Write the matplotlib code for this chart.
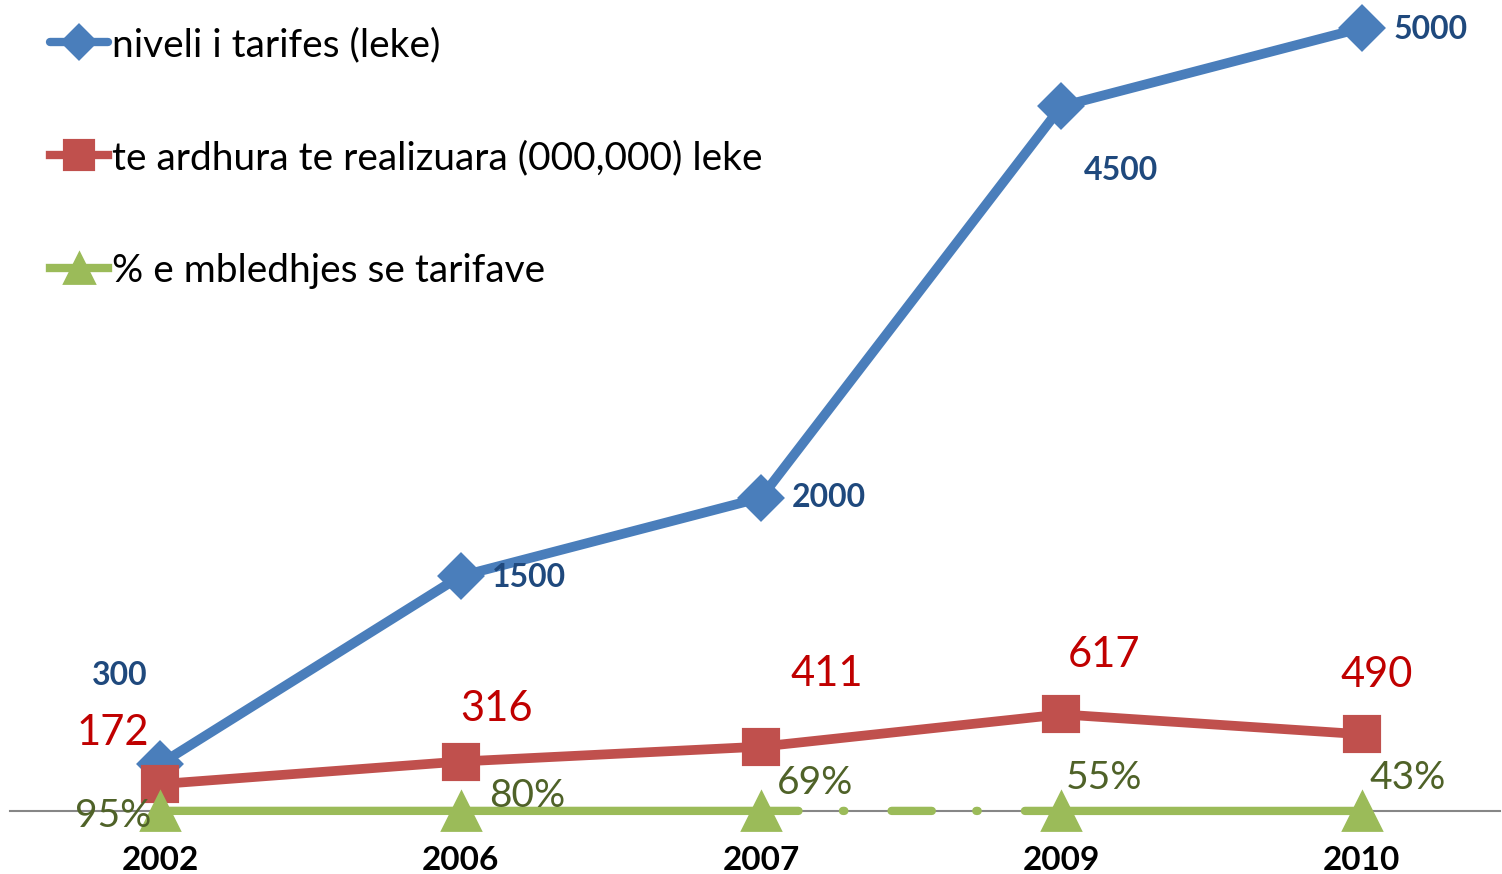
import matplotlib.pyplot as plt

# Data
years = ['2002', '2006', '2007', '2009', '2010']
tarifa = [300, 1500, 2000, 4500, 5000]           # niveli i tarifes (leke)
te_ardhura = [172, 316, 411, 617, 490]           # te ardhura te realizuara (000,000) leke
mbledhja = [0.95, 0.80, 0.69, 0.55, 0.43]        # % e mbledhjes se tarifave
mbledhja_labels = ['95%', '80%', '69%', '55%', '43%']

series_names = ['niveli i tarifes (leke)',
                'te ardhura te realizuara (000,000) leke',
                '% e mbledhjes se tarifave']

# label offsets in pixels (dx, dy) from each point
off_blue = [(-40, 89), (68, -1), (68, 0), (60, -64), (69, -2)]
off_red = [(-47, 51), (36, 53), (66, 73), (43, 59), (15, 59)]
off_green = [(-47, -5), (67, 15), (54, 28), (43, 33), (46, 33)]

plt.rcParams['font.family'] = ['Lato', 'DejaVu Sans']
plt.rcParams['lines.scale_dashes'] = False

fig = plt.figure(figsize=(15.02, 8.74), dpi=100)
ax = fig.add_axes([10 / 1502, 63 / 874, 1490 / 1502, 783 / 874])

x = list(range(len(years)))
blue, red, green = '#4A7EBB', '#C0504D', '#9BBB59'

l1, = ax.plot(x, tarifa, color=blue, lw=7, marker='D', ms=21, mec=blue, mew=3,
              solid_joinstyle='round', solid_capstyle='round', clip_on=False, zorder=3,
              label=series_names[0])
l2, = ax.plot(x, te_ardhura, color=red, lw=7, marker='s', ms=25, mec=red, mew=3,
              clip_on=False, zorder=4, label=series_names[1])

# green series: solid except the broken stretch between 2007 and 2009
ax.plot(x[:3], mbledhja[:3], color=green, lw=6, solid_capstyle='butt', clip_on=False, zorder=5)
ax.plot(x[3:], mbledhja[3:], color=green, lw=6, solid_capstyle='butt', clip_on=False, zorder=5)
ax.plot(x[2:4], mbledhja[2:4], color=green, lw=6, dash_capstyle='round', clip_on=False, zorder=5,
        dashes=(27, 32, 1, 34, 29, 32, 1, 34, 26))
l3, = ax.plot(x, mbledhja, color=green, lw=0, marker='^', ms=27, mec=green, mew=2,
              clip_on=False, zorder=5, label=series_names[2])

for i in x:
    ax.annotate(str(tarifa[i]), (i, tarifa[i]), xytext=off_blue[i], textcoords='offset pixels',
                ha='center', va='center', fontsize=23, fontweight='bold', color='#1F497D')
    ax.annotate(str(te_ardhura[i]), (i, te_ardhura[i]), xytext=off_red[i], textcoords='offset pixels',
                ha='center', va='center', fontsize=30, color='#C00000')
    ax.annotate(mbledhja_labels[i], (i, mbledhja[i]), xytext=off_green[i], textcoords='offset pixels',
                ha='center', va='center', fontsize=28, color='#4F6228', zorder=6)

ax.set_xlim(-0.5, 4.46)
ax.set_ylim(0, 5000)
ax.set_xticks(x)
ax.set_xticklabels(years, fontsize=24, fontweight='bold')
ax.tick_params(axis='x', length=0, pad=25)
ax.set_yticks([])
for s in ['top', 'right', 'left']:
    ax.spines[s].set_visible(False)
ax.spines['bottom'].set_color('#868686')
ax.spines['bottom'].set_linewidth(1.5)

leg = ax.legend(handles=[l1, l2, l3], loc='upper left', bbox_to_anchor=(50 / 1502, 1 - 27 / 874),
                bbox_transform=fig.transFigure, frameon=False, fontsize=28,
                handlelength=1.5, handletextpad=0.1, labelspacing=1.98, borderaxespad=0,
                borderpad=0, markerscale=0.8)
for h in leg.legend_handles:
    h.set_linewidth(6)

fig.savefig('out.png', dpi=100)
